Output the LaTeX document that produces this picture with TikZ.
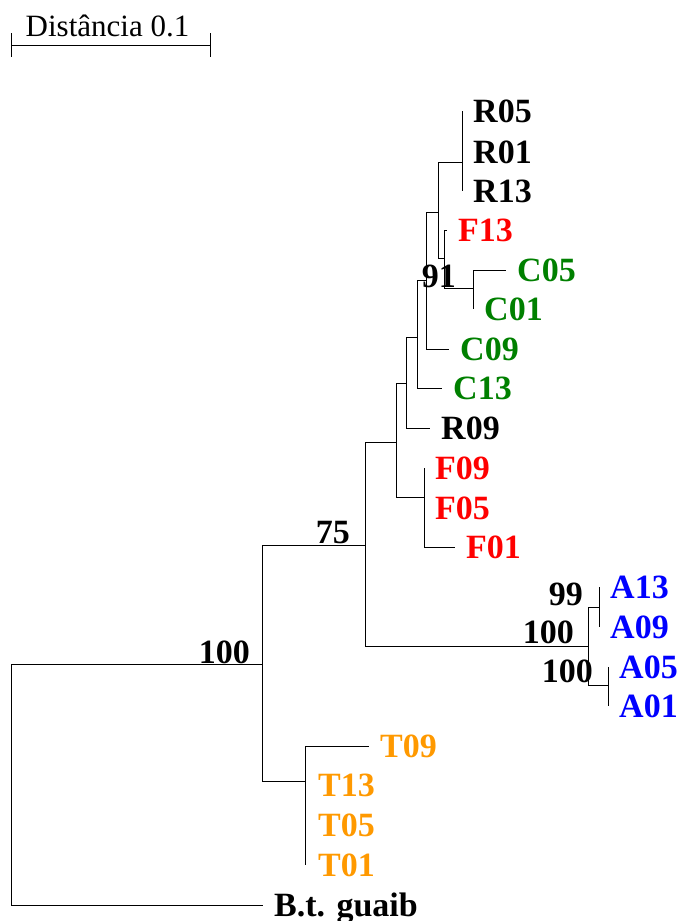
\documentclass[tikz,border=0pt]{standalone}
\usepackage{fontspec}
\setmainfont{Liberation Serif}
\definecolor{cR}{RGB}{255,0,0}
\definecolor{cG}{RGB}{0,128,0}
\definecolor{cB}{RGB}{0,0,255}
\definecolor{cO}{RGB}{255,153,0}
\newcommand{\labfont}{\fontsize{34}{34}\selectfont\bfseries}
\begin{document}
\begin{tikzpicture}[x=1pt,y=-1pt,
  br/.style={line width=1pt,black},
  leaf/.style={anchor=base west,inner sep=0pt,xshift=11pt,yshift=-11.5pt,font=\labfont},
  boot/.style={anchor=base east,inner sep=0pt,font=\labfont,text=black}]
\useasboundingbox (0,0) rectangle (680,921);
% scale bar
\coordinate (s1) at (11,45);
\coordinate (s2) at (210,45);
\draw[br] (s1) -- (s2);
\draw[br] ([yshift=12pt]s1) -- ([yshift=-12pt]s1);
\draw[br] ([yshift=12pt]s2) -- ([yshift=-12pt]s2);
\node[anchor=base,inner sep=0pt,font=\fontsize{31}{31}\selectfont] (scl) at (107.5,36) {Distância 0.1};
% internal nodes
\coordinate (n0) at (11,784);
\coordinate (n1) at (262,664);
\coordinate (n2) at (365,545);
\coordinate (nT) at (305,781);
\coordinate (nA) at (588,646);
\coordinate (nA1) at (599,607);
\coordinate (nA2) at (608,685);
\coordinate (n3) at (396,442);
\coordinate (nF) at (424,497);
\coordinate (n4) at (406,383);
\coordinate (n5) at (417,337);
\coordinate (n6) at (426,280);
\coordinate (n7) at (438,212);
\coordinate (nR) at (462,162);
\coordinate (n8) at (444,258);
\coordinate (nC) at (473,288);
% tips
\coordinate (bt) at (263,905);
\coordinate (t09) at (369,746);
\coordinate (t13) at (305,785);
\coordinate (t05) at (305,825);
\coordinate (t01) at (305,865);
\coordinate (a13) at (599,587);
\coordinate (a09) at (599,627);
\coordinate (a05) at (608,667);
\coordinate (a01) at (608,706);
\coordinate (f09) at (424,468);
\coordinate (f05) at (424,508);
\coordinate (f01) at (455,547);
\coordinate (r09) at (430,428);
\coordinate (c13) at (442,388);
\coordinate (c09) at (449,349);
\coordinate (r05) at (462,111);
\coordinate (r01) at (462,152);
\coordinate (r13) at (462,191);
\coordinate (f13) at (447,230);
\coordinate (c05) at (506,270);
\coordinate (c01) at (473,309);
% branches
\draw[br] (n0) |- (n1);
\draw[br] (n0) |- (bt);
\draw[br] (n1) |- (n2);
\draw[br] (n1) |- (nT);
\draw[br] (nT) |- (t09);
\draw[br] (nT) |- (t13);
\draw[br] (nT) |- (t05);
\draw[br] (nT) |- (t01);
\draw[br] (n2) |- (n3);
\draw[br] (n2) |- (nA);
\draw[br] (nA) |- (nA1);
\draw[br] (nA) |- (nA2);
\draw[br] (nA1) |- (a13);
\draw[br] (nA1) |- (a09);
\draw[br] (nA2) |- (a05);
\draw[br] (nA2) |- (a01);
\draw[br] (n3) |- (n4);
\draw[br] (n3) |- (nF);
\draw[br] (nF) |- (f09);
\draw[br] (nF) |- (f05);
\draw[br] (nF) |- (f01);
\draw[br] (n4) |- (n5);
\draw[br] (n4) |- (r09);
\draw[br] (n5) |- (n6);
\draw[br] (n5) |- (c13);
\draw[br] (n6) |- (n7);
\draw[br] (n6) |- (c09);
\draw[br] (n7) |- (nR);
\draw[br] (n7) |- (n8);
\draw[br] (nR) |- (r05);
\draw[br] (nR) |- (r01);
\draw[br] (nR) |- (r13);
\draw[br] (n8) |- (f13);
\draw[br] (n8) |- (nC);
\draw[br] (nC) |- (c05);
\draw[br] (nC) |- (c01);
% leaf labels
\node[leaf,text=black] (Lbt) at (bt) {B.t. guaib};
\node[leaf,text=cO] (Lt09) at (t09) {T09};
\node[leaf,text=cO,xshift=2pt] (Lt13) at (t13) {T13};
\node[leaf,text=cO,xshift=2pt] (Lt05) at (t05) {T05};
\node[leaf,text=cO,xshift=2pt] (Lt01) at (t01) {T01};
\node[leaf,text=cB] (La13) at (a13) {A13};
\node[leaf,text=cB] (La09) at (a09) {A09};
\node[leaf,text=cB] (La05) at (a05) {A05};
\node[leaf,text=cB] (La01) at (a01) {A01};
\node[leaf,text=cR] (Lf09) at (f09) {F09};
\node[leaf,text=cR] (Lf05) at (f05) {F05};
\node[leaf,text=cR] (Lf01) at (f01) {F01};
\node[leaf,text=black] (Lr09) at (r09) {R09};
\node[leaf,text=cG] (Lc13) at (c13) {C13};
\node[leaf,text=cG] (Lc09) at (c09) {C09};
\node[leaf,text=black] (Lr05) at (r05) {R05};
\node[leaf,text=black] (Lr01) at (r01) {R01};
\node[leaf,text=black] (Lr13) at (r13) {R13};
\node[leaf,text=cR] (Lf13) at (f13) {F13};
\node[leaf,text=cG] (Lc05) at (c05) {C05};
\node[leaf,text=cG] (Lc01) at (c01) {C01};
% bootstrap values
\node[boot] (b100a) at (250,663) {100};
\node[boot] (b75) at (350,543) {75};
\node[boot] (b91) at (456,287) {91};
\node[boot] (b99) at (583,605) {99};
\node[boot] (b100b) at (574,643) {100};
\node[boot] (b100c) at (593,682) {100};
\end{tikzpicture}
\end{document}
